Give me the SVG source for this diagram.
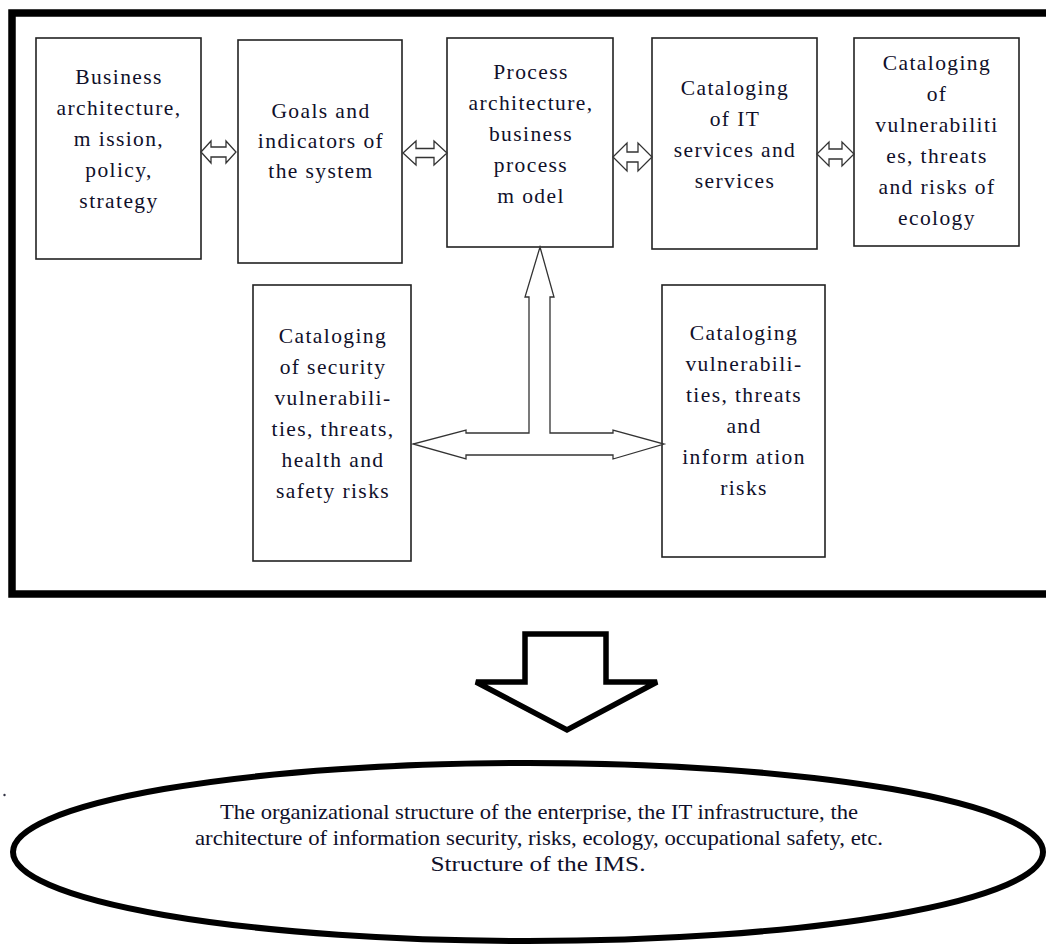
<svg xmlns="http://www.w3.org/2000/svg" width="1046" height="947" viewBox="0 0 1046 947">
<style>
.box{fill:#fff;stroke:#222;stroke-width:1.6}
.t{font-family:"Liberation Serif","Times New Roman",serif;font-size:21.5px;fill:#10102a;text-anchor:middle;letter-spacing:1.4px}
.e{font-family:"Liberation Serif","Times New Roman",serif;font-size:22px;fill:#10102a;text-anchor:middle}
.arr{fill:#fff;stroke:#333;stroke-width:1.3;stroke-linejoin:miter}
.big{fill:#fff;stroke:#000;stroke-width:5.5;stroke-linejoin:miter}
</style>
<rect x="12" y="13" width="1045" height="581" fill="none" stroke="#000" stroke-width="7.5"/>
<g id="n1">
<rect class="box" x="36" y="38" width="165" height="221"/>
<text class="t" x="119" y="84">Business</text>
<text class="t" x="119" y="115">architecture,</text>
<text class="t" x="119" y="146">m ission,</text>
<text class="t" x="119" y="177">policy,</text>
<text class="t" x="119" y="208">strategy</text>
</g>
<g id="n2">
<rect class="box" x="238" y="40" width="164" height="223"/>
<text class="t" x="321" y="118">Goals and</text>
<text class="t" x="321" y="148">indicators of</text>
<text class="t" x="321" y="178">the system</text>
</g>
<g id="n3">
<rect class="box" x="447" y="38" width="166" height="209"/>
<text class="t" x="531" y="79">Process</text>
<text class="t" x="531" y="110">architecture,</text>
<text class="t" x="531" y="141">business</text>
<text class="t" x="531" y="172">process</text>
<text class="t" x="531" y="203">m odel</text>
</g>
<g id="n4">
<rect class="box" x="652" y="38" width="165" height="211"/>
<text class="t" x="735" y="95">Cataloging</text>
<text class="t" x="735" y="126">of IT</text>
<text class="t" x="735" y="157">services and</text>
<text class="t" x="735" y="188">services</text>
</g>
<g id="n5">
<rect class="box" x="854" y="38" width="165" height="208"/>
<text class="t" x="937" y="70">Cataloging</text>
<text class="t" x="937" y="101">of</text>
<text class="t" x="937" y="132">vulnerabiliti</text>
<text class="t" x="937" y="163">es, threats</text>
<text class="t" x="937" y="194">and risks of</text>
<text class="t" x="937" y="225">ecology</text>
</g>
<g id="n6">
<rect class="box" x="253" y="285" width="158" height="276"/>
<text class="t" x="333" y="343">Cataloging</text>
<text class="t" x="333" y="374">of security</text>
<text class="t" x="333" y="405">vulnerabili-</text>
<text class="t" x="333" y="436">ties, threats,</text>
<text class="t" x="333" y="467">health and</text>
<text class="t" x="333" y="498">safety risks</text>
</g>
<g id="n7">
<rect class="box" x="662" y="285" width="163" height="272"/>
<text class="t" x="744" y="340">Cataloging</text>
<text class="t" x="744" y="371">vulnerabili-</text>
<text class="t" x="744" y="402">ties, threats</text>
<text class="t" x="744" y="433">and</text>
<text class="t" x="744" y="464">inform ation</text>
<text class="t" x="744" y="495">risks</text>
</g>
<g id="connectors">
<polygon class="arr" points="201,152 211,141 211,147 226,147 226,141 236,152 226,163 226,157 211,157 211,163"/>
<polygon class="arr" points="403,153 416,141 416,148.5 434,148.5 434,141 447,153 434,165 434,157.5 416,157.5 416,165"/>
<polygon class="arr" points="613,157 627,143 627,152 638,152 638,143 652,157 638,171 638,162 627,162 627,171"/>
<polygon class="arr" points="817,154 829,142 829,149 842,149 842,142 854,154 842,166 842,159 829,159 829,166"/>
<polygon class="arr" points="540,247 554,297 550,297 550,433 613,433 613,430 664,444 613,459 613,455 466,455 466,459 413,444 466,430 466,433 529,433 529,297 525,297"/>
<polygon class="big" points="525,634 606,634 606,682 657,682 567,730 476,682 525,682"/>
</g>
<g id="n8">
<ellipse cx="528" cy="852" rx="515" ry="89" fill="#fff" stroke="#000" stroke-width="6"/>
<text class="e" x="539" y="819" textLength="638" lengthAdjust="spacingAndGlyphs">The organizational structure of the enterprise, the IT infrastructure, the</text>
<text class="e" x="539" y="845" textLength="688" lengthAdjust="spacingAndGlyphs">architecture of information security, risks, ecology, occupational safety, etc.</text>
<text class="e" x="538" y="871" textLength="215" lengthAdjust="spacingAndGlyphs">Structure of the IMS.</text>
</g>
<circle cx="4.5" cy="795" r="1.2" fill="#334"/>
</svg>
